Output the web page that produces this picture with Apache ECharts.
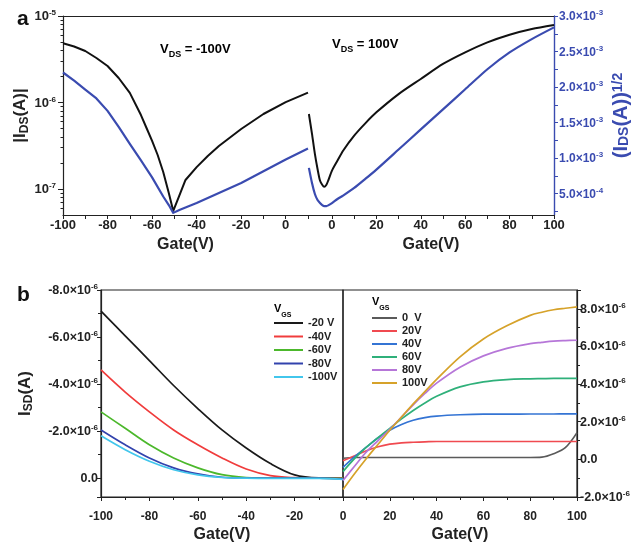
<!DOCTYPE html>
<html><head><meta charset="utf-8">
<script src="https://cdn.jsdelivr.net/npm/echarts@6/dist/echarts.min.js"></script>
<style>html,body{margin:0;padding:0;background:#fff}#c{width:633px;height:544px}</style>
</head><body><div id="c"></div>
<script>
// ---------- Panel a data ----------
const aGateLb = [-100,-95,-90,-85,-80,-75,-70,-65,-62.5,-60,-57.5,-55,-52.5,-50.5,-48,-45,-40,-35,-30,-20,-10,0,10];
const aAbsIdsL = [4.83e-6,4.44e-6,3.94e-6,3.27e-6,2.64e-6,1.92e-6,1.29e-6,7.16e-7,5.07e-7,3.59e-7,2.47e-7,1.57e-7,9.0e-8,5.57e-8,8.1e-8,1.27e-7,1.79e-7,2.41e-7,3.14e-7,4.94e-7,7.36e-7,1.01e-6,1.30e-6];
const aGateL  = [-100,-95,-90,-85,-80,-75,-70,-65,-60,-55,-52.5,-50.5,-47.5,-45,-40,-30,-20,-10,0,10];
const aSqrtIdsL = [2.205e-3,2.09e-3,1.965e-3,1.84e-3,1.665e-3,1.44e-3,1.20e-3,9.7e-4,7.3e-4,4.6e-4,3.4e-4,2.3e-4,2.75e-4,3.07e-4,3.68e-4,5.1e-4,6.5e-4,8.15e-4,9.8e-4,1.136e-3];
const aGateR  = [-10.4,-9,-7.7,-6.5,-5.4,-4.4,-3.5,-2.5,-1.7,0,2.5,5,10,15,20,30,40,50,60,70,80,90,100];
const aAbsIdsR = [7.36e-7,4.33e-7,2.54e-7,1.70e-7,1.25e-7,1.12e-7,1.06e-7,1.12e-7,1.25e-7,1.63e-7,2.13e-7,2.77e-7,4.14e-7,5.74e-7,7.69e-7,1.25e-6,1.87e-6,2.79e-6,3.8e-6,4.96e-6,6.08e-6,7.08e-6,7.87e-6];
const aSqrtIdsR = [8.63e-4,6.5e-4,4.95e-4,4.1e-4,3.68e-4,3.4e-4,3.26e-4,3.26e-4,3.35e-4,3.68e-4,4.25e-4,4.72e-4,5.8e-4,7.07e-4,8.39e-4,1.121e-3,1.404e-3,1.686e-3,1.969e-3,2.251e-3,2.487e-3,2.675e-3,2.84e-3];
const aSqrtLabels = [5e-4,1e-3,1.5e-3,2e-3,2.5e-3,3e-3];
const aSqrtTicks = [2.5e-4,5e-4,7.5e-4,1e-3,1.25e-3,1.5e-3,1.75e-3,2e-3,2.25e-3,2.5e-3,2.75e-3,3e-3];
const aGateLabelsL = [-100,-80,-60,-40,-20,0];
const aGateTicksL = [-100,-90,-80,-70,-60,-50,-40,-30,-20,-10,0,10];
const aGateLabelsR = [0,20,40,60,80,100];
const aGateTicksR = [0,10,20,30,40,50,60,70,80,90,100];
// minor log ticks (mantissa 2..9 in each decade)
const aLogMinorMant = [2,3,4,5,6,7,8,9];
const aLogMinorExp = [-8,-7,-6];

// ---------- Panel b data ----------
const bGateL = [-100,-90,-80,-70,-60,-50,-40,-30,-20,-10,0];
const bNamesL = ['-20 V','-40V','-60V','-80V','-100V'];
const bColorsL = ['#1a1a1a','#f03c3c','#4cb82c','#3243ad','#42c6ec'];
const bIsdM20  = [-7.10e-6,-6.05e-6,-5.0e-6,-3.94e-6,-2.96e-6,-2.05e-6,-1.28e-6,-0.62e-6,-0.14e-6,-0.01e-6,0];
const bIsdM40  = [-4.60e-6,-3.66e-6,-2.82e-6,-2.05e-6,-1.42e-6,-0.86e-6,-0.39e-6,-0.11e-6,-0.02e-6,0,0];
const bIsdM60  = [-2.82e-6,-2.12e-6,-1.42e-6,-0.86e-6,-0.44e-6,-0.15e-6,-0.03e-6,0,0,0,0.01e-6];
const bIsdM80  = [-2.05e-6,-1.42e-6,-0.86e-6,-0.44e-6,-0.18e-6,-0.04e-6,0,0,0,0,0.03e-6];
const bIsdM100 = [-1.80e-6,-1.21e-6,-0.72e-6,-0.36e-6,-0.14e-6,-0.03e-6,0,0.01e-6,0.01e-6,0.01e-6,0.05e-6];
const bGateR = [0,5,10,15,20,25,30,35,40,50,60,70,80,85,90,95,100];
const bNamesR = ['0  V','20V','40V','60V','80V','100V'];
const bColorsR = ['#5a5a5a','#f04a50','#3474d4','#2fb07a','#b676d8','#d6a22a'];
const bIsdP0   = [0.06e-6,0.1e-6,0.1e-6,0.1e-6,0.1e-6,0.1e-6,0.1e-6,0.1e-6,0.1e-6,0.1e-6,0.1e-6,0.1e-6,0.1e-6,0.12e-6,0.3e-6,0.62e-6,1.42e-6];
const bIsdP20  = [-0.07e-6,0.19e-6,0.46e-6,0.67e-6,0.81e-6,0.88e-6,0.91e-6,0.93e-6,0.95e-6,0.95e-6,0.95e-6,0.95e-6,0.95e-6,0.95e-6,0.95e-6,0.95e-6,0.95e-6];
const bIsdP40  = [-0.42e-6,0.15e-6,0.65e-6,1.15e-6,1.55e-6,1.85e-6,2.08e-6,2.22e-6,2.3e-6,2.37e-6,2.4e-6,2.4e-6,2.41e-6,2.41e-6,2.41e-6,2.42e-6,2.42e-6];
const bIsdP60  = [-0.65e-6,0.05e-6,0.65e-6,1.15e-6,1.65e-6,2.15e-6,2.6e-6,3.0e-6,3.35e-6,3.85e-6,4.12e-6,4.24e-6,4.28e-6,4.29e-6,4.3e-6,4.3e-6,4.3e-6];
const bIsdP80  = [-1.12e-6,-0.35e-6,0.4e-6,1.0e-6,1.6e-6,2.25e-6,2.9e-6,3.5e-6,4.05e-6,4.9e-6,5.5e-6,5.9e-6,6.15e-6,6.22e-6,6.28e-6,6.31e-6,6.33e-6];
const bIsdP100 = [-1.6e-6,-0.75e-6,0.05e-6,0.8e-6,1.55e-6,2.25e-6,2.95e-6,3.6e-6,4.25e-6,5.45e-6,6.4e-6,7.1e-6,7.65e-6,7.82e-6,7.95e-6,8.03e-6,8.1e-6];

const FONT = "'Liberation Sans', Arial, sans-serif";
const BLUE = '#3a4bb0';
const AX = '#222';
function pair(xs, ys){ return xs.map((x,i)=>[x, ys[i]]); }
function sci(v){
  if (Math.abs(v) < 1e-12) return '{m|0.0}';
  const e = Math.floor(Math.log10(Math.abs(v)) + 1e-9);
  const m = v / Math.pow(10, e);
  return '{m|' + m.toFixed(1) + '×10}{s|' + e + '}';
}
function richNum(size, color){
  return {
    m: {fontSize: size, fontWeight: 'bold', fontFamily: FONT, color: color, lineHeight: 14, verticalAlign: 'bottom'},
    s: {fontSize: Math.round(size*0.65), fontWeight: 'bold', fontFamily: FONT, color: color, lineHeight: 6, verticalAlign: 'top'}
  };
}
function nameRich(size, color){
  return {
    n: {fontSize: size, fontWeight: 'bold', fontFamily: FONT, color: color, lineHeight: 20},
    d: {fontSize: Math.round(size*0.68), fontWeight: 'bold', fontFamily: FONT, color: color, lineHeight: 8, verticalAlign: 'bottom'},
    u: {fontSize: Math.round(size*0.68), fontWeight: 'bold', fontFamily: FONT, color: color, lineHeight: 8, verticalAlign: 'top'}
  };
}
const logMinorLog = [];
aLogMinorExp.forEach(e => aLogMinorMant.forEach(m => { const v = Math.log10(m) + e; if (v > Math.log10(5e-8) && v < -5) logMinorLog.push(v); }));

const xName = {name: 'Gate(V)', nameLocation: 'middle', nameTextStyle: {fontSize: 16, fontWeight: 'bold', fontFamily: FONT, color: '#222', verticalAlign: 'top'}};

const chart = echarts.init(document.getElementById('c'), null, {renderer: 'canvas'});
const lineAx = {onZero: false, lineStyle: {color: AX, width: 1.2}};
const tickOut = {show: true, inside: false, length: 4, lineStyle: {color: AX, width: 1}};
const xLab = (size)=>({fontSize: size, fontWeight: 'bold', fontFamily: FONT, color: '#222'});

const seriesB = [];
[bIsdM20,bIsdM40,bIsdM60,bIsdM80,bIsdM100].forEach((ys,i)=>{
  seriesB.push({name: bNamesL[i], type: 'line', xAxisIndex: 4, yAxisIndex: 4, data: pair(bGateL, ys), showSymbol: false, smooth: 0.35, lineStyle: {width: 1.7, color: bColorsL[i]}, itemStyle: {color: bColorsL[i]}});
});
[bIsdP0,bIsdP20,bIsdP40,bIsdP60,bIsdP80,bIsdP100].forEach((ys,i)=>{
  seriesB.push({name: bNamesR[i], type: 'line', xAxisIndex: 5, yAxisIndex: 5, data: pair(bGateR, ys), showSymbol: false, smooth: 0.35, lineStyle: {width: 1.7, color: bColorsR[i]}, itemStyle: {color: bColorsR[i]}});
});

const option = {
  animation: false,
  backgroundColor: '#fff',
  grid: [
    {left: 63, top: 16, width: 245, height: 199},
    {left: 308, top: 16, width: 246, height: 199},
    {left: 101, top: 290, width: 242, height: 209, show: true, borderColor: AX, borderWidth: 1.2},
    {left: 343, top: 290, width: 234, height: 209, show: true, borderColor: AX, borderWidth: 1.2}
  ],
  xAxis: [
    Object.assign({gridIndex: 0, type: 'value', min: -100, max: 10, axisLine: lineAx, splitLine: {show: false},
      axisTick: Object.assign({}, tickOut, {customValues: aGateTicksL}),
      axisLabel: Object.assign({customValues: aGateLabelsL, margin: 4}, xLab(13)), nameGap: 22}, xName),
    Object.assign({gridIndex: 1, type: 'value', min: -10.8, max: 100, axisLine: lineAx, splitLine: {show: false},
      axisTick: Object.assign({}, tickOut, {customValues: aGateTicksR}),
      axisLabel: Object.assign({customValues: aGateLabelsR, margin: 4}, xLab(13)), nameGap: 22}, xName),
    {gridIndex: 0, type: 'value', position: 'top', min: -100, max: 10, axisLine: lineAx, axisTick: {show: false}, axisLabel: {show: false}, splitLine: {show: false}},
    {gridIndex: 1, type: 'value', position: 'top', min: -10.8, max: 100, axisLine: lineAx, axisTick: {show: false}, axisLabel: {show: false}, splitLine: {show: false}},
    Object.assign({gridIndex: 2, type: 'value', min: -100, max: 0, interval: 20, axisLine: lineAx, splitLine: {show: false},
      axisTick: tickOut, minorTick: {show: true, splitNumber: 2, length: 3, lineStyle: {color: AX}},
      axisLabel: Object.assign({margin: 14, showMaxLabel: false}, xLab(12)), nameGap: 30}, xName),
    Object.assign({gridIndex: 3, type: 'value', min: 0, max: 100, interval: 20, axisLine: lineAx, splitLine: {show: false},
      axisTick: tickOut, minorTick: {show: true, splitNumber: 2, length: 3, lineStyle: {color: AX}},
      axisLabel: Object.assign({margin: 14}, xLab(12)), nameGap: 30}, xName)
  ],
  yAxis: [
    {gridIndex: 0, type: 'log', logBase: 10, min: 5e-8, max: 1e-5, position: 'left', axisLine: {show: true, onZero: false, lineStyle: {color: AX, width: 1.2}},
      axisTick: Object.assign({}, tickOut, {length: 5}), splitLine: {show: false},
      axisLabel: {showMinLabel: false, margin: 7, formatter: v => '{m|10}{s|' + Math.round(Math.log10(v)) + '}', rich: richNum(13, '#222')},
      name: '{n||I}{d|DS}{n|(A)|}', nameLocation: 'middle', nameRotate: 90, nameGap: 31, nameTextStyle: {rich: nameRich(17, '#222')}},
    {gridIndex: 0, type: 'value', min: 2e-4, max: 3e-3, position: 'right', show: false, axisLine: {onZero: false}, splitLine: {show: false}},
    {gridIndex: 1, type: 'log', logBase: 10, min: 5e-8, max: 1e-5, position: 'left', show: false, axisLine: {onZero: false}, splitLine: {show: false}},
    {gridIndex: 1, type: 'value', min: 2e-4, max: 3e-3, position: 'right', axisLine: {show: true, onZero: false, lineStyle: {color: BLUE, width: 1.4}},
      axisTick: Object.assign({}, tickOut, {customValues: aSqrtTicks, lineStyle: {color: BLUE}}), splitLine: {show: false},
      axisLabel: {customValues: aSqrtLabels, margin: 5, formatter: sci, rich: richNum(12, BLUE)},
      name: '{n|(I}{d|DS}{n|(A))}{u|1/2}', nameLocation: 'middle', nameRotate: 90, nameGap: 57, nameTextStyle: {rich: nameRich(20, BLUE), padding: [0, 0, 0, 0]}},
    {gridIndex: 2, type: 'value', min: -8e-6, max: 0.8e-6, interval: 2e-6, inverse: true, position: 'left', axisLine: lineAx,
      axisTick: tickOut, minorTick: {show: true, splitNumber: 2, length: 3, lineStyle: {color: AX}}, splitLine: {show: false},
      axisLabel: {showMaxLabel: false, margin: 3, formatter: sci, rich: richNum(12.5, '#222')},
      name: '{n|I}{d|SD}{n|(A)}', nameLocation: 'middle', nameRotate: 90, nameGap: 66, nameTextStyle: {rich: nameRich(17, '#222')}},
    {gridIndex: 3, type: 'value', min: -2e-6, max: 9e-6, interval: 2e-6, position: 'right', axisLine: lineAx,
      axisTick: tickOut, minorTick: {show: true, splitNumber: 2, length: 3, lineStyle: {color: AX}}, splitLine: {show: false},
      axisLabel: {showMaxLabel: false, margin: 3, formatter: sci, rich: richNum(12.5, '#222')}},
    // minor log ticks for the |I_DS| axis (tick marks only)
    {gridIndex: 0, type: 'value', min: Math.log10(5e-8), max: -5, position: 'left', offset: 0,
      axisLine: {show: false, onZero: false}, axisLabel: {show: false}, splitLine: {show: false},
      axisTick: {show: true, inside: false, length: 2.5, customValues: logMinorLog, lineStyle: {color: AX, width: 1}}}
  ],
  legend: [
    {data: bNamesL, orient: 'vertical', left: 274, top: 317, padding: 0, itemGap: 1.5, itemWidth: 29, itemHeight: 2, icon: 'rect',
      textStyle: {fontSize: 11, fontWeight: 'bold', fontFamily: FONT, color: '#222', lineHeight: 12}, selectedMode: false},
    {data: bNamesR, orient: 'vertical', left: 372, top: 312, padding: 0, itemGap: 1, itemWidth: 25, itemHeight: 2, icon: 'rect',
      textStyle: {fontSize: 11, fontWeight: 'bold', fontFamily: FONT, color: '#222', lineHeight: 12}, selectedMode: false}
  ],
  graphic: [
    {type: 'text', x: 17, y: 9, style: {text: 'a', font: 'bold 21px ' + FONT, fill: '#111'}},
    {type: 'text', x: 17, y: 285, style: {text: 'b', font: 'bold 21px ' + FONT, fill: '#111'}},
    {type: 'text', x: 160, y: 49, style: {text: '{n|V}{d|DS}{n| = -100V}', verticalAlign: 'middle', rich: nameRich(13, '#222')}},
    {type: 'text', x: 332, y: 44, style: {text: '{n|V}{d|DS}{n| = 100V}', verticalAlign: 'middle', rich: nameRich(13, '#222')}},
    {type: 'text', x: 274, y: 309, style: {text: '{n|V}{d|GS}', verticalAlign: 'middle', rich: nameRich(11, '#222')}},
    {type: 'text', x: 372, y: 302, style: {text: '{n|V}{d|GS}', verticalAlign: 'middle', rich: nameRich(11, '#222')}}
  ],
  series: [
    {name: 'absL', type: 'line', xAxisIndex: 0, yAxisIndex: 0, data: pair(aGateLb, aAbsIdsL), showSymbol: false, smooth: false, lineStyle: {width: 2, color: '#111', join: 'round'}},
    {name: 'sqrtL', type: 'line', xAxisIndex: 0, yAxisIndex: 1, data: pair(aGateL, aSqrtIdsL), showSymbol: false, smooth: false, lineStyle: {width: 2.2, color: BLUE, join: 'round'}},
    {name: 'absR', type: 'line', xAxisIndex: 1, yAxisIndex: 2, data: pair(aGateR, aAbsIdsR), showSymbol: false, smooth: 0.25, lineStyle: {width: 2, color: '#111'}},
    {name: 'sqrtR', type: 'line', xAxisIndex: 1, yAxisIndex: 3, data: pair(aGateR, aSqrtIdsR), showSymbol: false, smooth: 0.25, lineStyle: {width: 2.2, color: BLUE}}
  ].concat(seriesB)
};
chart.setOption(option);
</script></body></html>
